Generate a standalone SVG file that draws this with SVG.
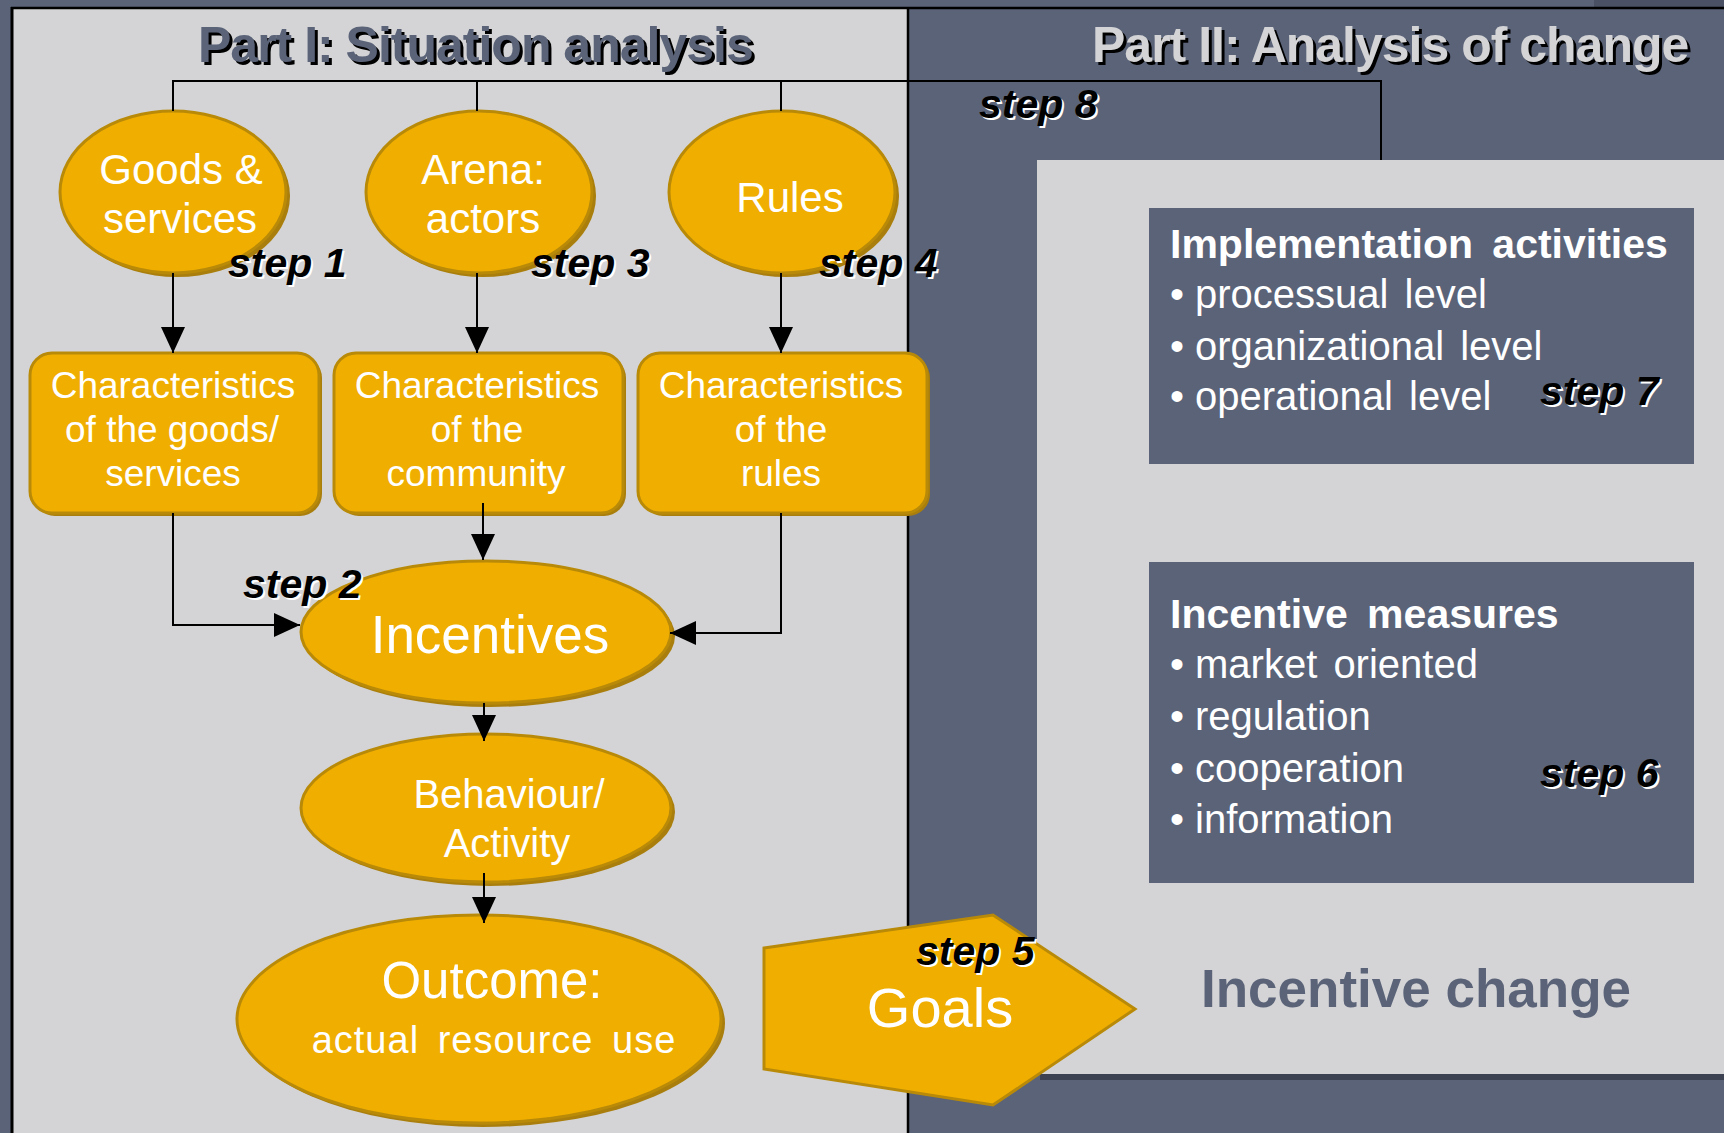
<svg xmlns="http://www.w3.org/2000/svg" width="1724" height="1133" viewBox="0 0 1724 1133">
<style>
.txt{font-family:"Liberation Sans",Arial,sans-serif;}
.node{fill:#f0ae00;stroke:#b98a08;stroke-width:3;}
.shadow{fill:#a97e0c;}
.wt{fill:#ffffff;font-family:"Liberation Sans",Arial,sans-serif;text-anchor:middle;}
.ch{font-size:37px;}
.step{font-family:"Liberation Sans",Arial,sans-serif;font-size:41px;font-weight:bold;font-style:italic;}
.stepsh{fill:#ffffff;}
.stepfg{fill:#000000;}
.conn{fill:none;stroke:#000;stroke-width:2;}
.box{fill:#5a6378;}
.bt{fill:#ffffff;font-family:"Liberation Sans",Arial,sans-serif;font-size:40px;word-spacing:5px;}
.bh{fill:#ffffff;font-family:"Liberation Sans",Arial,sans-serif;font-size:41px;font-weight:bold;word-spacing:8px;}
.title{font-family:"Liberation Sans",Arial,sans-serif;font-size:50px;font-weight:bold;letter-spacing:-1px;}
</style>
<defs>
<marker id="arr" viewBox="0 0 26 24" refX="26" refY="12" markerWidth="26" markerHeight="24" markerUnits="userSpaceOnUse" orient="auto">
<path d="M0,0 L26,12 L0,24 z" fill="#000"/>
</marker>
</defs>

<!-- backgrounds -->
<rect x="0" y="0" width="1724" height="1133" fill="#5a6378"/>
<rect x="1594" y="0" width="130" height="7" fill="#4a5164"/>
<rect x="12" y="8" width="896" height="1125" fill="#d4d4d6"/>
<rect x="1037" y="160" width="687" height="915" fill="#d4d4d6"/>
<rect x="1040" y="1074" width="684" height="6" fill="#3c4252"/>
<line x1="11" y1="8" x2="1724" y2="8" stroke="#000" stroke-width="2.5"/>
<line x1="12" y1="7" x2="12" y2="1133" stroke="#000" stroke-width="3"/>
<line x1="908" y1="7" x2="908" y2="1133" stroke="#000" stroke-width="2.5"/>

<!-- titles -->
<g id="title1">
<text class="title" x="201" y="65" fill="#000">Part I: Situation analysis</text>
<text class="title" x="198" y="62" fill="#5a6378">Part I: Situation analysis</text>
</g>
<g id="title2">
<text class="title" x="1095" y="65" fill="#000">Part II: Analysis of change</text>
<text class="title" x="1092" y="62" fill="#d4d4d6">Part II: Analysis of change</text>
</g>

<!-- right boxes -->
<g id="implementation">
<rect class="box" x="1149" y="208" width="545" height="256"/>
<text class="bh" x="1170" y="258">Implementation activities</text>
<text class="bt" x="1170" y="308">•<tspan dx="11">processual level</tspan></text>
<text class="bt" x="1170" y="360">•<tspan dx="11">organizational level</tspan></text>
<text class="bt" x="1170" y="410">•<tspan dx="11">operational level</tspan></text>
</g>
<g id="incentive-measures">
<rect class="box" x="1149" y="562" width="545" height="321"/>
<text class="bh" x="1170" y="628" word-spacing="4">Incentive measures</text>
<text class="bt" x="1170" y="678">•<tspan dx="11">market oriented</tspan></text>
<text class="bt" x="1170" y="730">•<tspan dx="11">regulation</tspan></text>
<text class="bt" x="1170" y="782">•<tspan dx="11">cooperation</tspan></text>
<text class="bt" x="1170" y="833">•<tspan dx="11">information</tspan></text>
</g>
<g id="incentive-change">
<text x="1201" y="1007" font-family="Liberation Sans, Arial, sans-serif" font-size="53" font-weight="bold" fill="#5a6378">Incentive change</text>
</g>

<!-- nodes -->
<g id="goods">
<ellipse class="shadow" cx="177" cy="196" rx="113" ry="81"/>
<ellipse class="node" cx="173" cy="192" rx="113" ry="81"/>
<text class="wt" x="181" y="184" font-size="42">Goods &amp;</text>
<text class="wt" x="180" y="233" font-size="42">services</text>
</g>
<g id="arena">
<ellipse class="shadow" cx="483" cy="196" rx="113" ry="81"/>
<ellipse class="node" cx="479" cy="192" rx="113" ry="81"/>
<text class="wt" x="483" y="184" font-size="42">Arena:</text>
<text class="wt" x="483" y="233" font-size="42">actors</text>
</g>
<g id="rules">
<ellipse class="shadow" cx="786" cy="196" rx="113" ry="81"/>
<ellipse class="node" cx="782" cy="192" rx="113" ry="81"/>
<text class="wt" x="790" y="212" font-size="42">Rules</text>
</g>
<g id="char-goods">
<rect class="shadow" x="33" y="356" width="289" height="160" rx="22"/>
<rect class="node" x="30" y="353" width="289" height="160" rx="22"/>
<text class="wt ch" x="173" y="398">Characteristics</text>
<text class="wt ch" x="172" y="442">of the goods/</text>
<text class="wt ch" x="173" y="486">services</text>
</g>
<g id="char-community">
<rect class="shadow" x="337" y="356" width="289" height="160" rx="22"/>
<rect class="node" x="334" y="353" width="289" height="160" rx="22"/>
<text class="wt ch" x="477" y="398">Characteristics</text>
<text class="wt ch" x="477" y="442">of the</text>
<text class="wt ch" x="476" y="486">community</text>
</g>
<g id="char-rules">
<rect class="shadow" x="641" y="356" width="289" height="160" rx="22"/>
<rect class="node" x="638" y="353" width="289" height="160" rx="22"/>
<text class="wt ch" x="781" y="398">Characteristics</text>
<text class="wt ch" x="781" y="442">of the</text>
<text class="wt ch" x="781" y="486">rules</text>
</g>
<g id="incentives">
<ellipse class="shadow" cx="490" cy="636" rx="185" ry="71"/>
<ellipse class="node" cx="486" cy="632" rx="185" ry="71"/>
<text class="wt" x="490" y="653" font-size="53">Incentives</text>
</g>
<g id="behaviour">
<ellipse class="shadow" cx="490" cy="812" rx="185" ry="74"/>
<ellipse class="node" cx="486" cy="808" rx="185" ry="74"/>
<text class="wt" x="509" y="808" font-size="40">Behaviour/</text>
<text class="wt" x="507" y="857" font-size="40">Activity</text>
</g>
<g id="outcome">
<ellipse class="shadow" cx="483" cy="1023" rx="242" ry="104"/>
<ellipse class="node" cx="479" cy="1019" rx="242" ry="104"/>
<text class="wt" x="492" y="998" font-size="51">Outcome:</text>
<text class="wt" x="494" y="1053" font-size="38" letter-spacing="1" word-spacing="7">actual resource use</text>
</g>
<g id="goals">
<polygon class="node" points="764,948 993,915 1135,1009 993,1105 764,1069"/>
<text class="wt" x="940" y="1027" font-size="56">Goals</text>
</g>

<!-- connectors -->
<g id="connectors">
<path class="conn" d="M173,111 V81 H1381 V160"/>
<path class="conn" d="M477,111 V81"/>
<path class="conn" d="M781,111 V81"/>
<path class="conn" d="M173,273 V353" marker-end="url(#arr)"/>
<path class="conn" d="M477,273 V353" marker-end="url(#arr)"/>
<path class="conn" d="M781,273 V353" marker-end="url(#arr)"/>
<path class="conn" d="M483,503 V560" marker-end="url(#arr)"/>
<path class="conn" d="M173,513 V625 H300" marker-end="url(#arr)"/>
<path class="conn" d="M781,513 V633 H670" marker-end="url(#arr)"/>
<path class="conn" d="M484,703 V741" marker-end="url(#arr)"/>
<path class="conn" d="M484,873 V923" marker-end="url(#arr)"/>
</g>

<!-- step labels -->
<g id="steps">
<text class="step stepsh" x="230" y="279">step 1</text><text class="step stepfg" x="228" y="277">step 1</text>
<text class="step stepsh" x="245" y="600">step 2</text><text class="step stepfg" x="243" y="598">step 2</text>
<text class="step stepsh" x="533" y="279">step 3</text><text class="step stepfg" x="531" y="277">step 3</text>
<text class="step stepsh" x="821" y="279">step 4</text><text class="step stepfg" x="819" y="277">step 4</text>
<text class="step stepsh" x="918" y="967">step 5</text><text class="step stepfg" x="916" y="965">step 5</text>
<text class="step stepsh" x="1542" y="789">step 6</text><text class="step stepfg" x="1540" y="787">step 6</text>
<text class="step stepsh" x="1542" y="407">step 7</text><text class="step stepfg" x="1540" y="405">step 7</text>
<text class="step stepsh" x="981" y="120">step 8</text><text class="step stepfg" x="979" y="118">step 8</text>
</g>
</svg>
